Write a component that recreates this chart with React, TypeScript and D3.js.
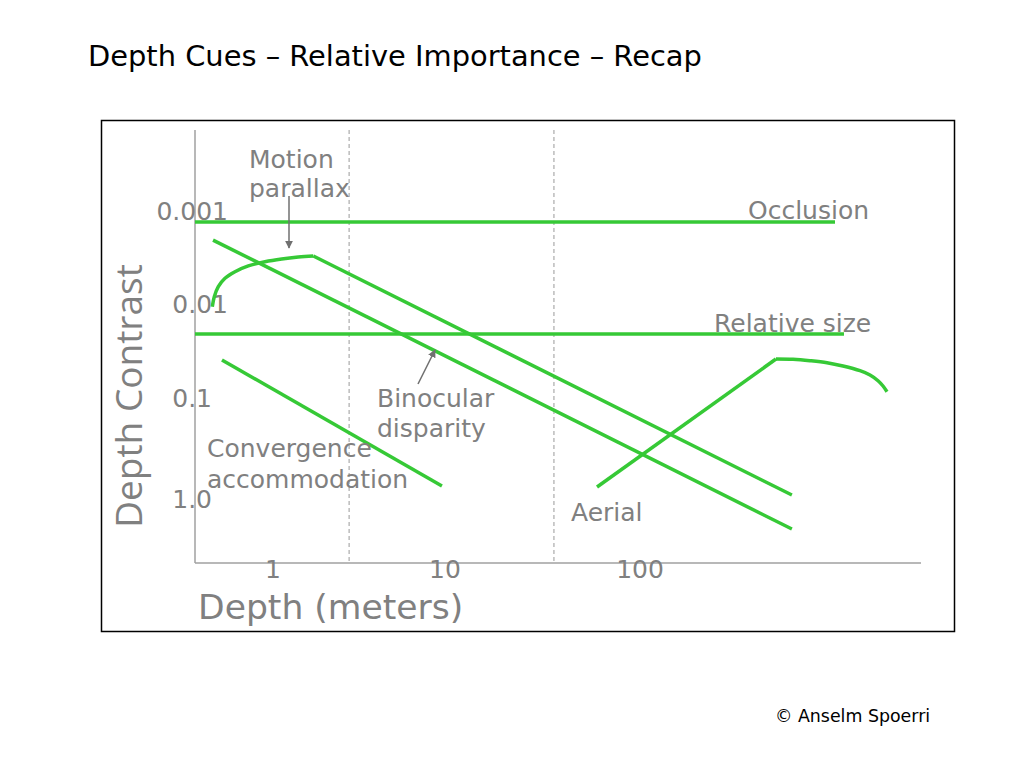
import { useEffect, useRef } from "react"
import * as d3 from "d3"

// depth in meters, contrast as threshold value
type Pt = [number, number]

const xTicks = [1, 10, 100]
const yTicks = [0.001, 0.01, 0.1, 1]
const yTickLabels = ["0.001", "0.01", "0.1", "1.0"]
const zoneBounds = [2.77, 36.2]

const occlusion: Pt[] = [
  [0.352, 0.0013],
  [1000, 0.0013],
]
const relativeSize: Pt[] = [
  [0.352, 0.0206],
  [1112, 0.0206],
]
const binocular: Pt[] = [
  [0.448, 0.00203],
  [601, 1.96],
]
const motionRise: Pt[] = [
  [0.4437, 0.01054],
  [0.4557, 0.00824],
  [0.4808, 0.00644],
  [0.5259, 0.00523],
  [0.6013, 0.00444],
  [0.7186, 0.00385],
  [0.8985, 0.00347],
  [1.1234, 0.00324],
  [1.4033, 0.00309],
  [1.7157, 0.00301],
]
const motionFall: Pt[] = [
  [1.7157, 0.00301],
  [601, 0.903],
]
const convergence: Pt[] = [
  [0.505, 0.0389],
  [9.6, 0.735],
]
const aerialRise: Pt[] = [
  [60.2, 0.752],
  [498, 0.038],
]
const aerialFall: Pt[] = [
  [498, 0.038],
  [609, 0.0383],
  [744, 0.0396],
  [910, 0.0416],
  [1099, 0.0451],
  [1343, 0.0506],
  [1512, 0.0562],
  [1662, 0.0647],
  [1763, 0.0736],
  [1848, 0.0847],
]

const GREEN = "#36c936"
const GREY = "#808080"
const FONT = "'DejaVu Sans', Verdana, sans-serif"

export default function App() {
  const svgRef = useRef<SVGSVGElement>(null)

  useEffect(() => {
    if (!svgRef.current) return
    const svg = d3.select(svgRef.current)
    svg.selectAll("*").remove()

    const left = 195
    const right = 921
    const top = 130
    const bottom = 563

    const x = d3.scaleLog().domain([1, 10, 100]).range([273, 445, 640])
    const y = d3.scaleLog().domain([0.001, 0.01, 0.1, 1]).range([211.5, 304.5, 398.5, 499.5])

    svg.append("rect").attr("width", 1024).attr("height", 768).attr("fill", "#fff")

    // title
    svg
      .append("text")
      .attr("x", 88)
      .attr("y", 66)
      .attr("font-family", FONT)
      .attr("font-size", 28.9)
      .attr("fill", "#000")
      .text("Depth Cues – Relative Importance – Recap")

    // frame
    svg
      .append("rect")
      .attr("x", 101.5)
      .attr("y", 120.5)
      .attr("width", 853)
      .attr("height", 511)
      .attr("fill", "none")
      .attr("stroke", "#000")
      .attr("stroke-width", 1.5)

    // axes
    svg
      .append("line")
      .attr("x1", left)
      .attr("x2", left)
      .attr("y1", top)
      .attr("y2", bottom)
      .attr("stroke", "#a0a0a0")
      .attr("stroke-width", 1.5)
    svg
      .append("line")
      .attr("x1", left)
      .attr("x2", right)
      .attr("y1", bottom)
      .attr("y2", bottom)
      .attr("stroke", "#a0a0a0")
      .attr("stroke-width", 1.5)

    // zone separators
    svg
      .selectAll(".zone")
      .data(zoneBounds)
      .enter()
      .append("line")
      .attr("x1", (d) => x(d))
      .attr("x2", (d) => x(d))
      .attr("y1", top)
      .attr("y2", bottom)
      .attr("stroke", "#999")
      .attr("stroke-width", 1)
      .attr("stroke-dasharray", "4,3")

    // tick labels
    svg
      .selectAll(".xt")
      .data(xTicks)
      .enter()
      .append("text")
      .attr("x", (d) => x(d))
      .attr("y", 578)
      .attr("text-anchor", "middle")
      .attr("font-family", FONT)
      .attr("font-size", 25)
      .attr("fill", GREY)
      .text((d) => String(d))

    svg
      .selectAll(".yt")
      .data(yTicks)
      .enter()
      .append("text")
      .attr("x", (d, i) => (i < 2 ? 228 : 212))
      .attr("y", (d) => y(d) + 8.5)
      .attr("text-anchor", "end")
      .attr("font-family", FONT)
      .attr("font-size", 25)
      .attr("fill", GREY)
      .text((d, i) => yTickLabels[i])

    // axis titles
    svg
      .append("text")
      .attr("x", 198)
      .attr("y", 619)
      .attr("font-family", FONT)
      .attr("font-size", 34.6)
      .attr("fill", GREY)
      .text("Depth (meters)")

    svg
      .append("text")
      .attr("transform", "translate(142,396) rotate(-90)")
      .attr("text-anchor", "middle")
      .attr("font-family", "'Open Sans', sans-serif")
      .attr("font-size", 37)
      .attr("fill", GREY)
      .text("Depth Contrast")

    // cue lines
    const straight = d3
      .line<Pt>()
      .x((d) => x(d[0]))
      .y((d) => y(d[1]))
    const smooth = d3
      .line<Pt>()
      .x((d) => x(d[0]))
      .y((d) => y(d[1]))
      .curve(d3.curveCatmullRom.alpha(0.5))

    const paths: [Pt[], boolean][] = [
      [occlusion, false],
      [relativeSize, false],
      [binocular, false],
      [motionRise, true],
      [motionFall, false],
      [convergence, false],
      [aerialRise, false],
      [aerialFall, true],
    ]
    paths.forEach(([pts, curved]) => {
      svg
        .append("path")
        .attr("d", (curved ? smooth : straight)(pts))
        .attr("fill", "none")
        .attr("stroke", GREEN)
        .attr("stroke-width", 3.5)
        .attr("stroke-linejoin", "round")
    })

    // annotation arrows
    const defs = svg.append("defs")
    defs
      .append("marker")
      .attr("id", "head")
      .attr("viewBox", "0 0 10 10")
      .attr("refX", 9)
      .attr("refY", 5)
      .attr("markerWidth", 8)
      .attr("markerHeight", 8)
      .attr("markerUnits", "userSpaceOnUse")
      .attr("orient", "auto")
      .append("path")
      .attr("d", "M0,0 L10,5 L0,10 Z")
      .attr("fill", "#707070")

    const arrows = [
      [289, 196, 289, 248],
      [418, 384, 435, 350],
    ]
    arrows.forEach(([x1, y1, x2, y2]) => {
      svg
        .append("line")
        .attr("x1", x1)
        .attr("y1", y1)
        .attr("x2", x2)
        .attr("y2", y2)
        .attr("stroke", "#707070")
        .attr("stroke-width", 1.5)
        .attr("marker-end", "url(#head)")
    })

    // cue labels
    const labels: [string, number, number][] = [
      ["Motion", 249, 168],
      ["parallax", 249, 197],
      ["Occlusion", 748, 219],
      ["Relative size", 714, 332],
      ["Binocular", 377, 407],
      ["disparity", 377, 437],
      ["Convergence", 207, 457],
      ["accommodation", 207, 488],
      ["Aerial", 571, 521],
    ]
    svg
      .selectAll(".lbl")
      .data(labels)
      .enter()
      .append("text")
      .attr("x", (d) => d[1])
      .attr("y", (d) => d[2])
      .attr("font-family", FONT)
      .attr("font-size", 25)
      .attr("fill", GREY)
      .text((d) => d[0])

    svg
      .append("text")
      .attr("x", 775)
      .attr("y", 722)
      .attr("font-family", FONT)
      .attr("font-size", 17.4)
      .attr("fill", "#000")
      .text("© Anselm Spoerri")
  }, [])

  return (
    <svg
      ref={svgRef}
      width={1024}
      height={768}
      style={{ position: "absolute", left: 0, top: 0 }}
    />
  )
}
